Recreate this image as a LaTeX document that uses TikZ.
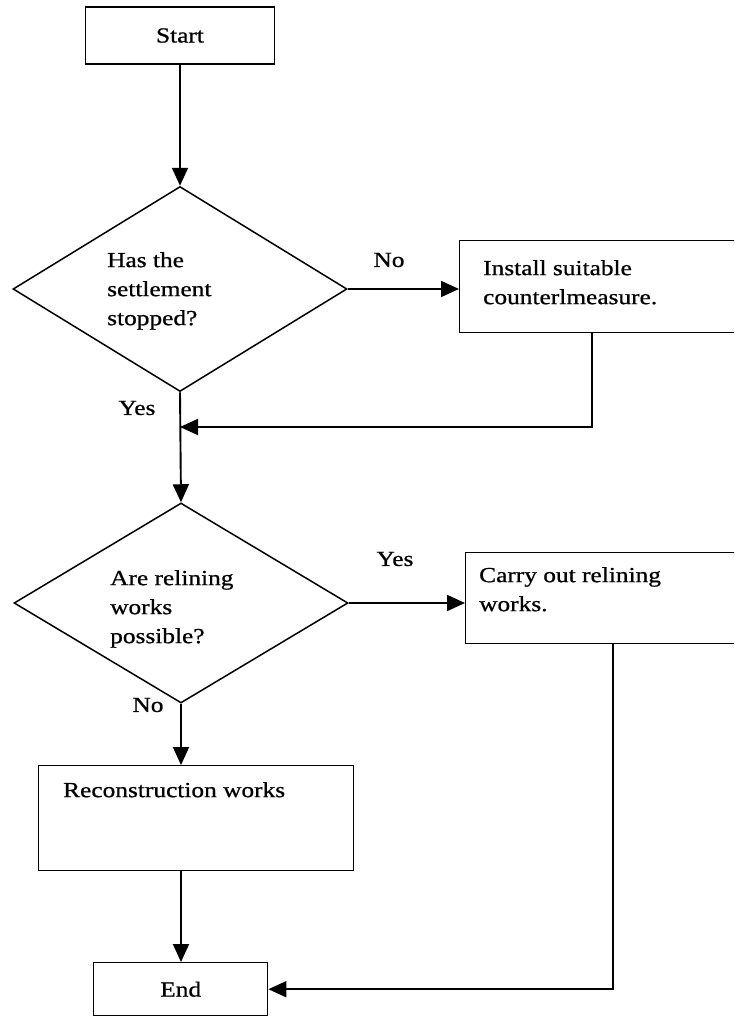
\documentclass[tikz,border=0pt]{standalone}
\usepackage{fontspec}
\setmainfont{Liberation Serif}[FakeStretch=1.18,FakeBold=0.8]
\usetikzlibrary{shapes.geometric,arrows.meta}

\tikzset{
  every node/.style={font=\fontsize{21.5}{29}\selectfont},
  box/.style={draw, line width=1.4pt, inner sep=0pt},
  decision/.style={draw, diamond, line width=1.5pt, inner sep=0pt},
  txt/.style={inner sep=0pt, align=left, anchor=north west},
  lbl/.style={inner sep=0pt},
  flow/.style={line width=1.9pt, -{Triangle[length=18pt,width=16pt]}},
}

\begin{document}
\begin{tikzpicture}[x=1pt,y=-1pt]
  \clip (0,0) rectangle (734,1017);
  \fill[white] (0,0) rectangle (734,1017);

  % start
  \node[box, minimum width=189pt, minimum height=57pt] (s) at (180,35.5) {Start};

  % first decision
  \node[decision, minimum width=334pt, minimum height=205pt] (d1) at (180,289) {};
  \node[txt] (d1t) at (107,252) {Has the\\settlement\\stopped?};

  % countermeasure box (runs off the right edge)
  \node[box, anchor=north west, minimum width=300pt, minimum height=92pt] (b2) at (459,240) {};
  \node[txt] (b2t) at (483,260) {Install suitable\\counterlmeasure.};
  \node[lbl] (no1) at (389,260) {No};

  % second decision
  \node[decision, minimum width=334pt, minimum height=200pt] (d2) at (181,603) {};
  \node[txt] (d2t) at (110,570) {Are relining\\works\\possible?};
  \node[lbl] (yes1) at (137,408) {Yes};

  % relining box (runs off the right edge)
  \node[box, anchor=north west, minimum width=300pt, minimum height=91pt] (b3) at (465,552) {};
  \node[txt] (b3t) at (479,567) {Carry out relining\\works.};
  \node[lbl] (yes2) at (395,559) {Yes};

  % reconstruction box
  \node[box, anchor=north west, minimum width=315pt, minimum height=105pt] (b4) at (38,765) {};
  \node[txt] (b4t) at (63,782) {Reconstruction works};
  \node[lbl] (no2) at (148,705) {No};

  % end
  \node[box, anchor=north west, minimum width=174pt, minimum height=53pt] (e) at (93,962) {End};

  % return lines
  \coordinate (r1) at (592,427);
  \coordinate (r2) at (613,988);

  % connectors
  \draw[flow] (s.south) -- (d1.north);
  \draw[flow] (d1.east) -- (d1.east -| b2.west);
  \draw[flow] (b2.south -| r1) |- (d1.south |- r1);
  \draw[flow] (d1.south) -- (d2.north);
  \draw[flow] (d2.east) -- (d2.east -| b3.west);
  \draw[flow] (d2.south) -- (d2.south |- b4.north);
  \draw[flow] (b4.south -| d2.south) -- (d2.south |- e.north);
  \draw[flow] (b3.south -| r2) |- (e.east);
\end{tikzpicture}
\end{document}
